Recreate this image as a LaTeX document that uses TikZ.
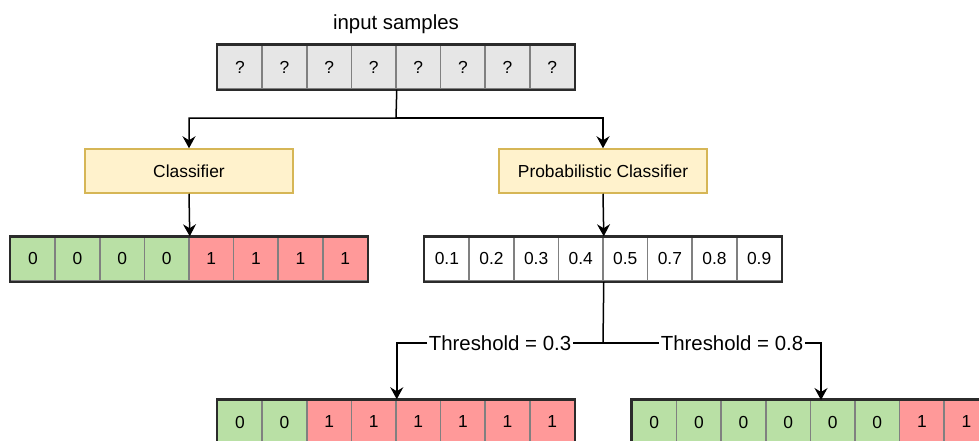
\documentclass[tikz,border=0pt]{standalone}
\usepackage{fontspec}
\setmainfont{Liberation Sans}
\usetikzlibrary{arrows.meta}
\definecolor{cgrey}{HTML}{E6E6E6}
\definecolor{cgreen}{HTML}{B9E0A5}
\definecolor{cred}{HTML}{FF9999}
\definecolor{cyel}{HTML}{FFF2CC}
\definecolor{cyelb}{HTML}{D6B656}
\definecolor{cdiv}{HTML}{808080}
\definecolor{cout}{HTML}{2B2B2B}
\begin{document}
\begin{tikzpicture}[x=1pt,y=-1pt,
  cell/.style={draw=cdiv, line width=1.5pt, minimum width=44.6pt, minimum height=44pt, inner sep=0pt, font=\fontsize{17.4}{20}\selectfont},
  outer/.style={draw=cout, line width=2.5pt},
  cbox/.style={draw=cyelb, fill=cyel, line width=1.5pt, minimum width=208pt, minimum height=44pt, inner sep=0pt, font=\fontsize{17.4}{20}\selectfont},
  conn/.style={line width=1.5pt},
  arr/.style={conn, -{Stealth[length=12pt,width=13pt,inset=4pt]}},
  lbl/.style={font=\fontsize{20.4}{24}\selectfont, inner sep=1.5pt, fill=white}]
\useasboundingbox (0,0) rectangle (979,440);
\clip (0,0) rectangle (979,440);

% top row
\node[font=\fontsize{20.4}{24}\selectfont] (title) at (396,24) {input samples};
\foreach \i in {1,...,8}
  \node[cell, fill=cgrey] (t\i) at ({217.6+44.6*(\i-0.5)},67) {?};
\draw[outer] (t1.north west) rectangle (t8.south east);

% classifiers
\node[cbox] (cls) at (189,171) {Classifier};
\node[cbox] (pcls) at (603,171) {Probabilistic Classifier};

% left row
\foreach \i/\c/\t in {1/cgreen/0,2/cgreen/0,3/cgreen/0,4/cgreen/0,5/cred/1,6/cred/1,7/cred/1,8/cred/1}
  \node[cell, fill=\c] (l\i) at ({10.6+44.6*(\i-0.5)},259) {\t};
\draw[outer] (l1.north west) rectangle (l8.south east);

% middle row
\foreach \i/\t in {1/0.1,2/0.2,3/0.3,4/0.4,5/0.5,6/0.7,7/0.8,8/0.9}
  \node[cell, fill=white] (m\i) at ({424.6+44.6*(\i-0.5)},259) {\t};
\draw[outer] (m1.north west) rectangle (m8.south east);

% bottom left row
\foreach \i/\c/\t in {1/cgreen/0,2/cgreen/0,3/cred/1,4/cred/1,5/cred/1,6/cred/1,7/cred/1,8/cred/1}
  \node[cell, fill=\c] (bl\i) at ({217.6+44.6*(\i-0.5)},422) {\t};
\draw[outer] (bl1.north west) rectangle (bl8.south east);

% bottom right row
\foreach \i/\c/\t in {1/cgreen/0,2/cgreen/0,3/cgreen/0,4/cgreen/0,5/cgreen/0,6/cgreen/0,7/cred/1,8/cred/1}
  \node[cell, fill=\c] (br\i) at ({632+44.6*(\i-0.5)},422) {\t};
\draw[outer] (br1.north west) rectangle (br8.south east);

% connectors
\coordinate (split1) at (396,118);
\draw[arr] (t4.south east) -- (split1) -| (cls.north);
\draw[arr] (split1) -| (pcls.north);
\draw[arr] (cls.south) -- (l4.north east);
\draw[arr] (pcls.south) -- (m4.north east);

\node[lbl] (th3) at (500,343) {Threshold = 0.3};
\node[lbl] (th8) at (732,343) {Threshold = 0.8};
\coordinate (split2) at (603,343);
\coordinate (tgt8) at (821,400);
\draw[conn] (m4.south east) -- (split2);
\draw[conn] (split2) -- (th3.east);
\draw[conn] (split2) -- (th8.west);
\draw[arr] (th3.west) -| (bl4.north east);
\draw[arr] (th8.east) -| (tgt8);
\end{tikzpicture}
\end{document}
